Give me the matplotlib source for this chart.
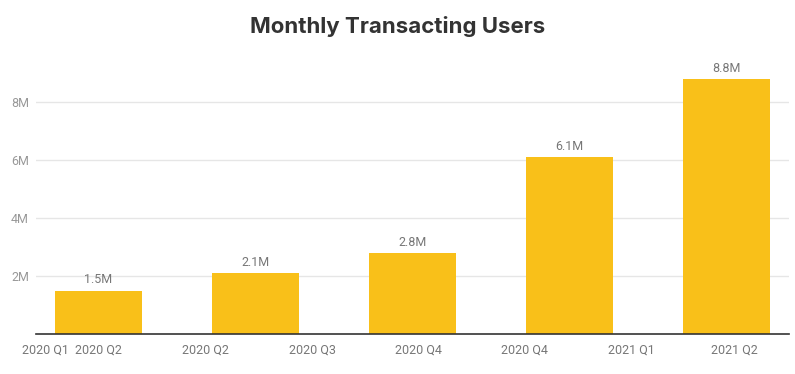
import matplotlib.pyplot as plt
import numpy as np

# monthly transacting users, millions
users = [1.5, 2.1, 2.8, 6.1, 8.8]
value_labels = ['1.5M', '2.1M', '2.8M', '6.1M', '8.8M']

# time axis tick labels (as shown in the source chart)
tick_labels = ['2020 Q1', '2020 Q2', '2020 Q2', '2020 Q3', '2020 Q4',
               '2020 Q4', '2021 Q1', '2021 Q2']
tick_pos = [-0.338, 0.0, 0.68, 1.363, 2.038, 2.713, 3.395, 4.051]

y_ticks = [2, 4, 6, 8]

if __name__ == '__main__':
    plt.rcParams['font.family'] = ['Roboto', 'DejaVu Sans']

    fig = plt.figure(figsize=(7.95, 3.74), dpi=100)
    ax = fig.add_axes([36 / 795, 40 / 374, (789 - 36) / 795, 0.72])

    x = np.arange(len(users))
    ax.bar(x, users, width=0.554, color='#F9C019', zorder=2)

    for xi, v, lab in zip(x, users, value_labels):
        ax.annotate(lab, (xi, v), xytext=(0, 3), textcoords='offset points',
                    ha='center', va='bottom', fontsize=9, color='#777777')

    ax.set_xlim(-0.397, 4.40)
    ax.set_ylim(0, 9.3)

    ax.set_yticks(y_ticks)
    ax.set_yticklabels([f'{t}M' for t in y_ticks])
    ax.set_xticks(tick_pos)
    ax.set_xticklabels(tick_labels)
    ax.tick_params(axis='y', length=0, pad=5, labelsize=9, labelcolor='#999999')
    ax.tick_params(axis='x', length=0, pad=7, labelsize=9, labelcolor='#777777')

    ax.grid(axis='y', color='#e6e6e6', linewidth=1, zorder=0)
    for s in ['top', 'right', 'left']:
        ax.spines[s].set_visible(False)
    ax.spines['bottom'].set_color('#333333')
    ax.spines['bottom'].set_linewidth(1.2)
    ax.spines['bottom'].set_zorder(3)

    fig.text(0.5, 1 - 33 / 374, 'Monthly Transacting Users', ha='center', va='baseline',
             fontsize=16, fontweight='bold', color='#333333', family=['Inter', 'DejaVu Sans'])

    fig.savefig('out.png', dpi=100)
